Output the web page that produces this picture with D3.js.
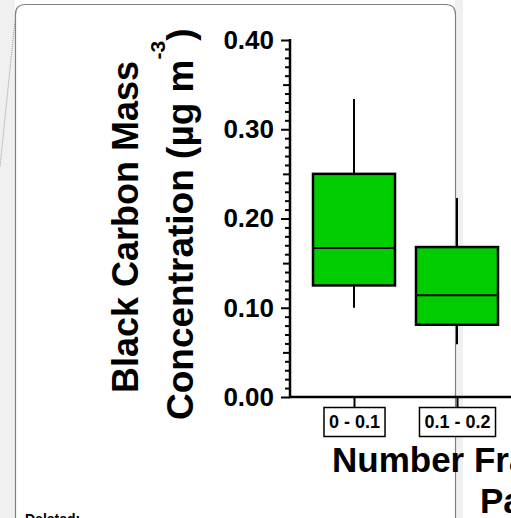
<!DOCTYPE html>
<html lang="en">
  <head>
    <meta charset="utf-8">
    <title>Black carbon box plot</title>
    <style>
      body {
        margin: 0;
        background: #fff;
        font-family: "Liberation Sans", Arial, Helvetica, sans-serif;
      }
      svg { display: block; }
    </style>
  </head>
  <body>
    <div class="graph"></div>

    <script src="https://d3js.org/d3.v7.min.js"></script>
    <script>
      // values
      var categories = ['0 - 0.1', '0.1 - 0.2'];
      var whiskerLow = [0.100, 0.059];
      var q1 = [0.125, 0.081];
      var median = [0.167, 0.114];
      var q3 = [0.250, 0.168];
      var whiskerHigh = [0.334, 0.223];
      var yTicks = [0.00, 0.10, 0.20, 0.30, 0.40];

      var width = 511, height = 518;
      var svg = d3.select('.graph')
                  .append('svg')
                  .attr('width', width)
                  .attr('height', height);

      // --- page chrome (word balloon around the picture) ---
      svg.append('rect').attr('x', 0).attr('y', 0).attr('width', width).attr('height', height).attr('fill', '#fff');
      svg.append('rect').attr('x', 0).attr('y', 0).attr('width', 15).attr('height', height).attr('fill', '#f0f0f0');
      svg.append('rect').attr('x', 455).attr('y', 0).attr('width', 8).attr('height', height).attr('fill', '#f0f0f0');
      svg.append('path')
         .attr('d', 'M15.5,530 L15.5,14.5 Q15.5,4.5 25.5,4.5 L445.5,4.5 Q455.5,4.5 455.5,14.5 L455.5,530')
         .attr('fill', '#fff')
         .attr('stroke', '#7b8089')
         .attr('stroke-width', 1.2);
      svg.append('line')
         .attr('x1', 15).attr('y1', 20).attr('x2', 0).attr('y2', 167)
         .attr('stroke', '#9a9a9a').attr('stroke-width', 1).attr('stroke-dasharray', '1,1');
      svg.append('text')
         .attr('x', 25).attr('y', 524)
         .attr('font-size', 14).attr('font-weight', 'bold')
         .text('Deleted:');

      // --- chart ---
      var y = d3.scaleLinear().domain([0, 0.4]).range([397, 40]);
      var x = d3.scalePoint().domain(categories).range([354, 457]);
      var boxW = 82;

      var data = categories.map(function(c, i) {
        return { cat: c, lo: whiskerLow[i], q1: q1[i], med: median[i], q3: q3[i], hi: whiskerHigh[i] };
      });

      var boxes = svg.selectAll('g.box')
                     .data(data)
                     .enter()
                     .append('g')
                     .attr('class', 'box');

      boxes.append('line')
           .attr('x1', function(d) { return x(d.cat); })
           .attr('x2', function(d) { return x(d.cat); })
           .attr('y1', function(d) { return y(d.lo); })
           .attr('y2', function(d) { return y(d.hi); })
           .attr('stroke', '#000').attr('stroke-width', 2);

      boxes.append('rect')
           .attr('x', function(d) { return x(d.cat) - boxW / 2; })
           .attr('width', boxW)
           .attr('y', function(d) { return y(d.q3); })
           .attr('height', function(d) { return y(d.q1) - y(d.q3); })
           .attr('fill', '#00cc00')
           .attr('stroke', '#000')
           .attr('stroke-width', 2.5);

      boxes.append('line')
           .attr('x1', function(d) { return x(d.cat) - boxW / 2; })
           .attr('x2', function(d) { return x(d.cat) + boxW / 2; })
           .attr('y1', function(d) { return y(d.med); })
           .attr('y2', function(d) { return y(d.med); })
           .attr('stroke', '#000').attr('stroke-width', 2);

      // y axis: minor, medium, major ticks
      var minor = d3.range(0, 41).map(function(i) { return i / 100; })
                    .filter(function(v, i) { return i % 5 !== 0; });
      var medium = [0.05, 0.15, 0.25, 0.35];

      function tickAxis(values, size) {
        var g = svg.append('g')
                   .attr('transform', 'translate(290,0)')
                   .call(d3.axisLeft(y).tickValues(values).tickSize(size).tickFormat(''));
        g.select('.domain').remove();
        g.selectAll('line').attr('stroke', '#000').attr('stroke-width', 2);
        return g;
      }
      tickAxis(minor, 5);
      tickAxis(medium, 7);

      var yAxis = svg.append('g')
                     .attr('transform', 'translate(290,0)')
                     .call(d3.axisLeft(y).tickValues(yTicks).tickSize(9).tickPadding(7)
                             .tickFormat(d3.format('.2f')));
      yAxis.select('.domain').remove();
      yAxis.selectAll('line').attr('stroke', '#000').attr('stroke-width', 2);
      yAxis.selectAll('text')
           .attr('font-family', '"Liberation Sans", Arial, sans-serif')
           .attr('font-size', 26).attr('font-weight', 'bold').attr('fill', '#000');

      svg.append('line')
         .attr('x1', 290).attr('x2', 290).attr('y1', 39).attr('y2', 398)
         .attr('stroke', '#000').attr('stroke-width', 2.5);

      // x axis
      var xAxis = svg.append('g')
                     .attr('transform', 'translate(0,397)')
                     .call(d3.axisBottom(x).tickSize(10).tickPadding(14));
      xAxis.select('.domain').remove();
      xAxis.selectAll('line').attr('stroke', '#000').attr('stroke-width', 2);
      xAxis.selectAll('text')
           .attr('font-family', '"Liberation Sans", Arial, sans-serif')
           .attr('font-size', 18).attr('font-weight', 'bold').attr('fill', '#000');
      xAxis.selectAll('.tick').each(function() {
        var t = d3.select(this).select('text');
        t.attr('y', 25).attr('dy', '0.35em');
        var b = t.node().getBBox();
        d3.select(this).insert('rect', 'text')
          .attr('x', b.x - 5).attr('y', 10.5)
          .attr('width', b.width + 10).attr('height', 29)
          .attr('fill', '#fff').attr('stroke', '#000').attr('stroke-width', 1.5);
      });

      svg.append('line')
         .attr('x1', 289).attr('x2', 520).attr('y1', 397).attr('y2', 397)
         .attr('stroke', '#000').attr('stroke-width', 2.5);

      // axis titles
      svg.append('text')
         .attr('transform', 'translate(138,393) rotate(-90)')
         .attr('font-size', 36).attr('font-weight', 'bold')
         .text('Black Carbon Mass');

      var t2 = svg.append('text')
                  .attr('transform', 'translate(193,420) rotate(-90)')
                  .attr('font-size', 37).attr('font-weight', 'bold');
      t2.append('tspan').text('Concentration (\u00b5g m');
      t2.append('tspan').attr('font-size', 21).attr('dy', -28).text('-3');
      t2.append('tspan').attr('dy', 28).text(')');

      svg.append('text')
         .attr('x', 332).attr('y', 472)
         .attr('font-size', 35).attr('font-weight', 'bold')
         .text('Number Fraction');
      svg.append('text')
         .attr('x', 480).attr('y', 513)
         .attr('font-size', 35).attr('font-weight', 'bold')
         .text('Particles');
    </script>
  </body>
</html>
